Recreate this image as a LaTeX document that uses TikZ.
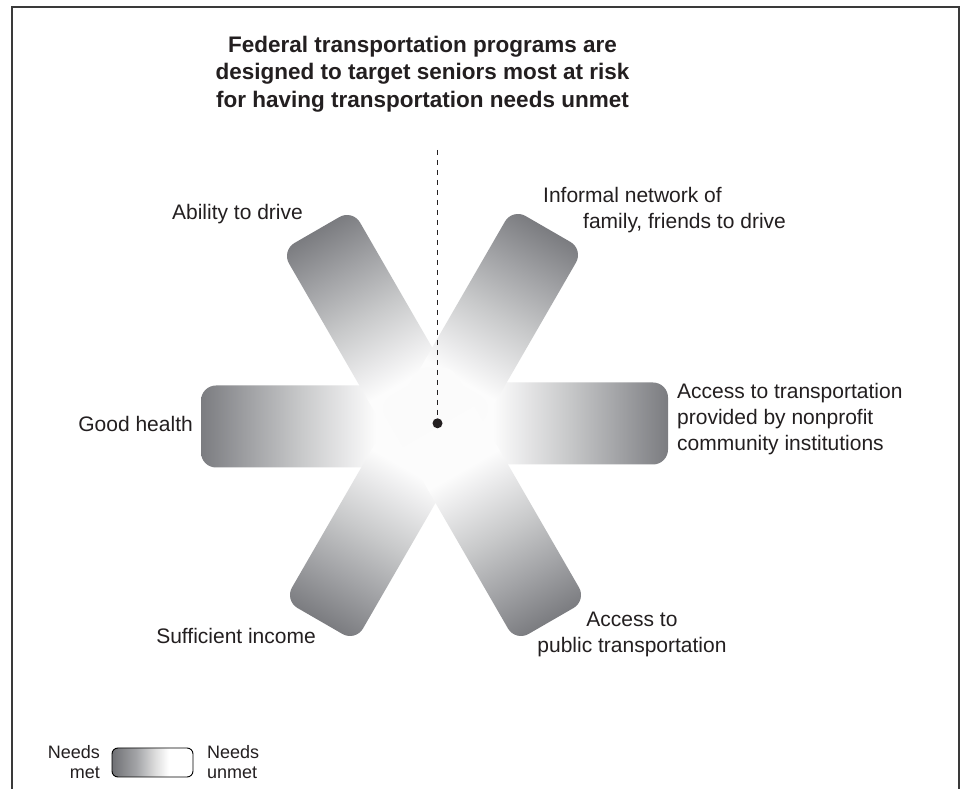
\documentclass[tikz,border=0pt]{standalone}
\usepackage{fontspec}
\setmainfont{Liberation Sans}
\definecolor{framecol}{HTML}{3A3A3A}
\definecolor{armdark}{HTML}{7B7C80}
\definecolor{armA}{HTML}{A2A3A6}
\definecolor{armB}{HTML}{C8C9CA}
\definecolor{armC}{HTML}{EBEBEC}
\definecolor{armD}{HTML}{FCFCFC}
\definecolor{armE}{HTML}{FBFBFB}
\definecolor{legdark}{HTML}{6F7074}
\definecolor{legB}{HTML}{A3A4A7}
\definecolor{legC}{HTML}{DEDEDE}
\definecolor{txt}{HTML}{231F20}
% arm length 275: bp = 25 + x*50/275
\pgfdeclarehorizontalshading{armshade}{100bp}{color(0bp)=(armdark); color(25bp)=(armdark); color(34.1bp)=(armA); color(43.2bp)=(armB); color(52.3bp)=(armC); color(56.8bp)=(armD); color(75bp)=(armE); color(100bp)=(armE)}
\pgfdeclarehorizontalshading{legshade}{100bp}{color(0bp)=(legdark); color(25bp)=(legdark); color(40bp)=(legB); color(52bp)=(legC); color(60bp)=(white); color(100bp)=(white)}
\newcommand\starArm[3]{%
  \begin{scope}[transform canvas={shift={(#1,#2)},rotate=#3}]
    \shade[shading=armshade, rounded corners=15] (0,-41) rectangle (275,41);
  \end{scope}}
\tikzset{
  lbl/.style={inner sep=0pt, text=txt, font=\fontsize{21}{26}\selectfont},
  ttl/.style={inner sep=0pt, text=txt, align=center, font=\fontsize{22.5}{27.5}\selectfont\bfseries},
  leglbl/.style={inner sep=0pt, text=txt, font=\fontsize{18}{19.5}\selectfont},
  legbox/.style={shade, shading=legshade, draw=black, line width=0.9pt, rounded corners=6pt, minimum width=81pt, minimum height=29pt, inner sep=0pt},
  frameline/.style={draw=framecol, line width=2pt},
  dashline/.style={draw=txt, line width=1.3pt, dash pattern=on 5pt off 5pt},
  dotnode/.style={circle, fill=txt, inner sep=0pt, minimum size=10pt}
}
\begin{document}
\begin{tikzpicture}[x=1pt,y=1pt]
\useasboundingbox (0,0) rectangle (964,789);
\fill[white] (0,0) rectangle (964,789);
\draw[frameline] (12,-2) -- (12,782) -- (959,782) -- (959,-2);
% arms
\starArm{201}{362.5}{0}
\starArm{668}{365.5}{180}
\starArm{317}{559}{-60}
\starArm{548}{560}{-120}
\starArm{320}{168}{60}
\starArm{551}{168}{120}
% title and pointer
\node[ttl] (title) at (422.5,715) {Federal transportation programs are\\designed to target seniors most at risk\\for having transportation needs unmet};
\coordinate (dashtop) at (437.5,639);
\node[dotnode] (dot) at (437.5,365.7) {};
\draw[dashline] (dashtop) -- (dot.center);
% labels
\node[lbl] (drive) at (237.5,575) {Ability to drive};
\node[lbl, anchor=west, align=left] (informal) at (543,578.5) {Informal network of\\\hspace*{40pt}family, friends to drive};
\node[lbl, anchor=west, align=left] (nonprofit) at (677,370) {Access to transportation\\provided by nonprofit\\community institutions};
\node[lbl, anchor=east] (health) at (193,365) {Good health};
\node[lbl, anchor=east] (income) at (316,153) {Sufficient income};
\node[lbl, align=center] (public) at (632,155) {Access to\\public transportation};
% legend
\node[legbox] (legend) at (152.5,26.5) {};
\node[leglbl, anchor=east, align=right] (met) at (100,27) {Needs\\met};
\node[leglbl, anchor=west, align=left] (unmet) at (207,27) {Needs\\unmet};
\end{tikzpicture}
\end{document}
